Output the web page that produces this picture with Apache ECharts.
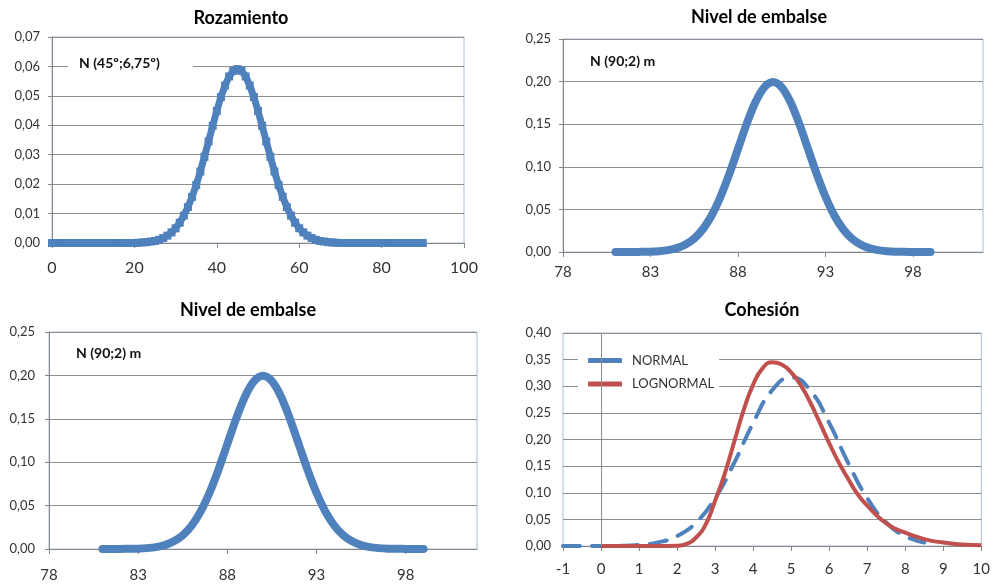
<!DOCTYPE html>
<html><head><meta charset="utf-8">
<script src="https://cdn.jsdelivr.net/npm/echarts@6/dist/echarts.min.js"></script>
<style>html,body{margin:0;padding:0;background:#fff}#c{width:993px;height:585px}</style>
</head><body><div id="c"></div>
<script>
// ---- Rozamiento: N(45º;6,75º)
const rozX = [0,1,2,3,4,5,6,7,8,9,10,11,12,13,14,15,16,17,18,19,20,21,22,23,24,25,26,27,28,29,30,31,32,33,34,35,36,37,38,39,40,41,42,43,44,45,46,47,48,49,50,51,52,53,54,55,56,57,58,59,60,61,62,63,64,65,66,67,68,69,70,71,72,73,74,75,76,77,78,79,80,81,82,83,84,85,86,87,88,89,90];
const rozY = [0,0,0,0,0,0,0,0,0,0,0,0,0,0,0,0,0,0,0,0,0,
  0.0001,0.0002,0.0003,0.0005,0.0007,0.0011,0.0017,0.0025,0.0036,0.0050,
  0.0069,0.0093,0.0122,0.0157,0.0197,0.0243,0.0293,0.0345,0.0398,0.0449,
  0.0496,0.0535,0.0566,0.0585,0.0591,0.0585,0.0566,0.0535,0.0496,
  0.0449,0.0398,0.0345,0.0293,0.0243,0.0197,0.0157,0.0122,0.0093,0.0069,
  0.0050,0.0036,0.0025,0.0017,0.0011,0.0007,0.0005,0.0003,0.0002,0.0001,
  0,0,0,0,0,0,0,0,0,0,0,0,0,0,0,0,0,0,0,0,0];
const rozXTicks = [0,20,40,60,80,100];

// ---- Nivel de embalse: N(90;2) m
const embX = [81,81.5,82,82.5,83,83.5,84,84.5,85,85.5,86,86.5,87,87.5,88,88.5,89,89.5,90,90.5,91,91.5,92,92.5,93,93.5,94,94.5,95,95.5,96,96.5,97,97.5,98,98.5,99];
const embY = [0,0,0.0001,0.0002,0.0004,0.0010,0.0022,0.0045,0.0088,0.0159,0.0270,0.0431,0.0648,0.0913,0.1210,0.1506,0.1760,0.1933,0.1995,0.1933,0.1760,0.1506,0.1210,0.0913,0.0648,0.0431,0.0270,0.0159,0.0088,0.0045,0.0022,0.0010,0.0004,0.0002,0.0001,0,0];
const embXTicks = [78,83,88,93,98];

// ---- Cohesión
const cohNormalX = [-1,-0.5,0,0.5,1,1.5,2,2.5,3,3.5,4,4.5,5,5.5,6,6.5,7,7.5,8,8.5];
const cohNormalY = [0,0,0.0001,0.0005,0.0021,0.0067,0.0186,0.0442,0.0898,0.1559,0.2311,0.2926,0.3166,0.2926,0.2311,0.1559,0.0898,0.0442,0.0186,0.0067];
const cohLogX = [0,0.5,1,1.5,2,2.25,2.5,2.75,3,3.25,3.5,3.75,4,4.25,4.5,4.75,5,5.25,5.5,5.75,6,6.25,6.5,6.75,7,7.5,8,8.5,9,9.5,10];
const cohLogY = [0,0,0,0,0.0005,0.004,0.016,0.04,0.085,0.135,0.195,0.255,0.303,0.334,0.345,0.341,0.326,0.302,0.27,0.232,0.193,0.157,0.126,0.097,0.076,0.0425,0.025,0.013,0.0065,0.003,0.0015];
const cohXTicks = [-1,0,1,2,3,4,5,6,7,8,9,10];

const titles = ['Rozamiento','Nivel de embalse','Nivel de embalse','Cohesión'];
const notes = ['N (45º;6,75º)','N (90;2) m','N (90;2) m'];
const seriesNames = ['NORMAL','LOGNORMAL'];

const BLUE = '#4F81BD', RED = '#C0504D';
const FONT = 'Lato';
const pairs = (xs, ys) => xs.map((x, i) => [x, ys[i]]);
const fmtY = v => v.toFixed(2).replace('.', ',');

const gridBase = {show:true, borderColor:'#A7BEDA', borderWidth:1, backgroundColor:'transparent', containLabel:false};
const grids = [
  Object.assign({left:52, top:37, width:412, height:206}, gridBase),
  Object.assign({left:563, top:39, width:420, height:213}, gridBase),
  Object.assign({left:49, top:332, width:428, height:217}, gridBase),
  Object.assign({left:563, top:333, width:422, height:213}, gridBase)
];

function xAxis(gi, min, max, ticks, margin, fs) {
  return {
    type:'value', gridIndex:gi, min:min, max:max,
    axisLine:{show:true, onZero:false, lineStyle:{color:'#868686', width:1}},
    axisTick:{show:true, length:5, lineStyle:{color:'#868686'}, customValues:ticks},
    axisLabel:{color:'#333', fontFamily:FONT, fontSize:fs, margin:margin, customValues:ticks, showMinLabel:true, showMaxLabel:true},
    splitLine:{show:false}
  };
}
function yAxis(gi, max, interval, margin, showLine) {
  return {
    type:'value', gridIndex:gi, min:0, max:max, interval:interval,
    axisLine:{show:showLine, lineStyle:{color:'#868686', width:1}},
    axisTick:{show:true, length:4, lineStyle:{color:'#868686'}},
    axisLabel:{color:'#333', fontFamily:FONT, fontSize:13, margin:margin, formatter:fmtY},
    splitLine:{show:true, lineStyle:{color:'#8E8E8E', width:1}}
  };
}
const titleStyle = t => ({text:t, font:'bold 18px Lato', fill:'#000', textAlign:'center', textVerticalAlign:'middle', align:'center', verticalAlign:'middle'});
const noteStyle = t => ({text:t, font:'bold 14px Lato', fill:'#111', textAlign:'left', textVerticalAlign:'middle', align:'left', verticalAlign:'middle'});

const option = {
  animation:false,
  backgroundColor:'#fff',
  grid: grids,
  xAxis: [
    xAxis(0, 0, 100, rozXTicks, 17, 16),
    xAxis(1, 78, 102, embXTicks, 13, 15),
    xAxis(2, 78, 102, embXTicks, 19, 15),
    xAxis(3, -1, 10, cohXTicks, 16, 15)
  ],
  yAxis: [
    yAxis(0, 0.07, 0.01, 12, true),
    yAxis(1, 0.25, 0.05, 12, true),
    yAxis(2, 0.25, 0.05, 14, true),
    yAxis(3, 0.40, 0.05, 12, false)
  ],
  legend: {
    data: seriesNames, orient:'vertical', left:578, top:347,
    backgroundColor:'#fff', padding:[7,5,7,10], icon:'roundRect', itemWidth:34, itemHeight:5, itemGap:10.6,
    textStyle:{color:'#333', fontFamily:FONT, fontSize:13, padding:[0,0,0,5]}
  },
  series: [
    {type:'line', xAxisIndex:0, yAxisIndex:0, data:pairs(rozX, rozY), symbol:'rect', symbolSize:8,
     itemStyle:{color:BLUE}, lineStyle:{color:BLUE, width:7}},
    {type:'line', xAxisIndex:1, yAxisIndex:1, data:pairs(embX, embY), symbol:'none', smooth:0.3,
     lineStyle:{color:BLUE, width:8, cap:'round', join:'round'}},
    {type:'line', xAxisIndex:2, yAxisIndex:2, data:pairs(embX, embY), symbol:'none', smooth:0.3,
     lineStyle:{color:BLUE, width:8, cap:'round', join:'round'}},
    {type:'line', name:seriesNames[0], xAxisIndex:3, yAxisIndex:3, data:pairs(cohNormalX, cohNormalY), symbol:'none', smooth:true,
     itemStyle:{color:BLUE}, lineStyle:{color:BLUE, width:4, type:[17,12], cap:'round'},
     markLine:{silent:true, symbol:'none', label:{show:false}, lineStyle:{color:'#8E8E8E', width:1, type:'solid'}, data:[{xAxis:0}], animation:false}},
    {type:'line', name:seriesNames[1], xAxisIndex:3, yAxisIndex:3, data:pairs(cohLogX, cohLogY), symbol:'none', smooth:true,
     itemStyle:{color:RED}, lineStyle:{color:RED, width:4}}
  ],
  graphic: [
    {type:'text', x:241, y:18, z:10, style:titleStyle(titles[0])},
    {type:'text', x:759, y:17, z:10, style:titleStyle(titles[1])},
    {type:'text', x:248, y:310, z:10, style:titleStyle(titles[2])},
    {type:'text', x:762, y:310, z:10, style:titleStyle(titles[3])},
    {type:'rect', x:68, y:56, z:9, shape:{width:125, height:16}, style:{fill:'#fff'}},
    {type:'text', x:79, y:63.5, z:10, style:noteStyle(notes[0])},
    {type:'text', x:590, y:61, z:10, style:noteStyle(notes[1])},
    {type:'text', x:76, y:353, z:10, style:noteStyle(notes[2])}
  ]
};
const chart = echarts.init(document.getElementById('c'), null, {renderer:'canvas'});
chart.setOption(option);
</script>
</body></html>
